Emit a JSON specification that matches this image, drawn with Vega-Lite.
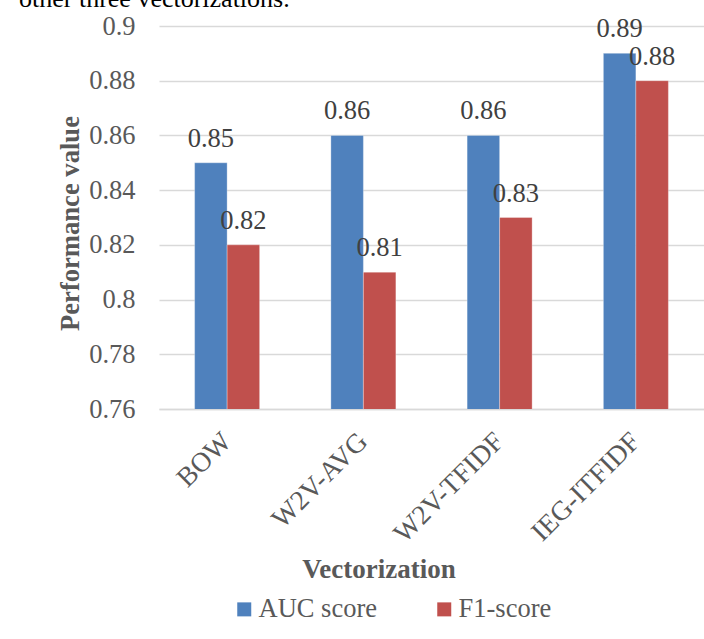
{
  "$schema": "https://vega.github.io/schema/vega-lite/v6.json",
  "autosize": {"type": "none"},
  "width": 545,
  "height": 383,
  "padding": {"left": 159, "top": 26, "right": 0, "bottom": 230},
  "background": "white",
  "title": {
    "text": "other three vectorizations.",
    "anchor": "start",
    "frame": "group",
    "orient": "top",
    "font": "Liberation Serif, Times New Roman, serif",
    "fontSize": 26,
    "fontWeight": "normal",
    "color": "#000000",
    "baseline": "alphabetic",
    "offset": 0,
    "dx": -140,
    "dy": 20
  },
  "data": {
    "values": [
      {"Vectorization": "BOW", "Metric": "AUC score", "Value": 0.85},
      {"Vectorization": "BOW", "Metric": "F1-score", "Value": 0.82},
      {"Vectorization": "W2V-AVG", "Metric": "AUC score", "Value": 0.86},
      {"Vectorization": "W2V-AVG", "Metric": "F1-score", "Value": 0.81},
      {"Vectorization": "W2V-TFIDF", "Metric": "AUC score", "Value": 0.86},
      {"Vectorization": "W2V-TFIDF", "Metric": "F1-score", "Value": 0.83},
      {"Vectorization": "IEG-ITFIDF", "Metric": "AUC score", "Value": 0.89},
      {"Vectorization": "IEG-ITFIDF", "Metric": "F1-score", "Value": 0.88}
    ]
  },
  "encoding": {
    "x": {
      "field": "Vectorization",
      "type": "nominal",
      "sort": ["BOW", "W2V-AVG", "W2V-TFIDF", "IEG-ITFIDF"],
      "scale": {"paddingInner": 0.523, "paddingOuter": 0.2615},
      "axis": {
        "title": "Vectorization",
        "titleFont": "Liberation Serif, Times New Roman, serif",
        "titleFontSize": 27,
        "titleFontWeight": "bold",
        "titleColor": "#595959",
        "titleX": 219.5,
        "titleY": 168,
        "titleBaseline": "alphabetic",
        "titleAlign": "center",
        "labelAngle": -45,
        "labelAlign": "right",
        "labelBaseline": "middle",
        "labelFont": "Liberation Serif, Times New Roman, serif",
        "labelFontSize": 27.5,
        "labelColor": "#595959",
        "labelPadding": 28,
        "ticks": false,
        "domainColor": "#d9d9d9",
        "domainWidth": 1.5,
        "grid": false
      }
    },
    "xOffset": {
      "field": "Metric",
      "type": "nominal",
      "sort": ["AUC score", "F1-score"],
      "scale": {"paddingInner": 0, "paddingOuter": 0}
    },
    "y": {
      "field": "Value",
      "type": "quantitative",
      "scale": {"domain": [0.76, 0.9], "zero": false, "nice": false},
      "axis": {
        "title": "Performance value",
        "titleFont": "Liberation Serif, Times New Roman, serif",
        "titleFontSize": 26.6,
        "titleFontWeight": "bold",
        "titleColor": "#595959",
        "titleAngle": -90,
        "titleX": -81,
        "titleY": 197,
        "titleBaseline": "alphabetic",
        "titleAlign": "center",
        "values": [0.76, 0.78, 0.8, 0.82, 0.84, 0.86, 0.88, 0.9],
        "format": ".2~f",
        "labelFont": "Liberation Serif, Times New Roman, serif",
        "labelFontSize": 26.5,
        "labelColor": "#595959",
        "labelPadding": 24,
        "ticks": false,
        "domain": false,
        "grid": true,
        "gridColor": "#d9d9d9",
        "gridWidth": 1.5
      }
    }
  },
  "layer": [
    {
      "mark": {"type": "bar", "clip": true, "stroke": "#ffffff", "strokeWidth": 0.5, "strokeOpacity": 0.6},
      "encoding": {
        "color": {
          "field": "Metric",
          "type": "nominal",
          "sort": ["AUC score", "F1-score"],
          "scale": {"domain": ["AUC score", "F1-score"], "range": ["#4f81bd", "#c0504d"]},
          "legend": {
            "title": null,
            "orient": "none",
            "direction": "horizontal",
            "legendX": 72,
            "legendY": 570,
            "symbolType": "square",
            "symbolSize": 196,
            "symbolStrokeWidth": 0,
            "labelFont": "Liberation Serif, Times New Roman, serif",
            "labelFontSize": 26.5,
            "labelColor": "#595959",
            "labelOffset": 1,
            "columnPadding": 54,
            "labelLimit": 300
          }
        }
      }
    },
    {
      "mark": {
        "type": "text",
        "font": "Liberation Serif, Times New Roman, serif",
        "fontSize": 26.5,
        "color": "#404040",
        "baseline": "alphabetic",
        "dy": -16
      },
      "encoding": {
        "text": {"field": "Value", "type": "quantitative", "format": ".2f"}
      }
    }
  ],
  "config": {
    "font": "Liberation Serif, Times New Roman, serif",
    "view": {"stroke": null}
  }
}
